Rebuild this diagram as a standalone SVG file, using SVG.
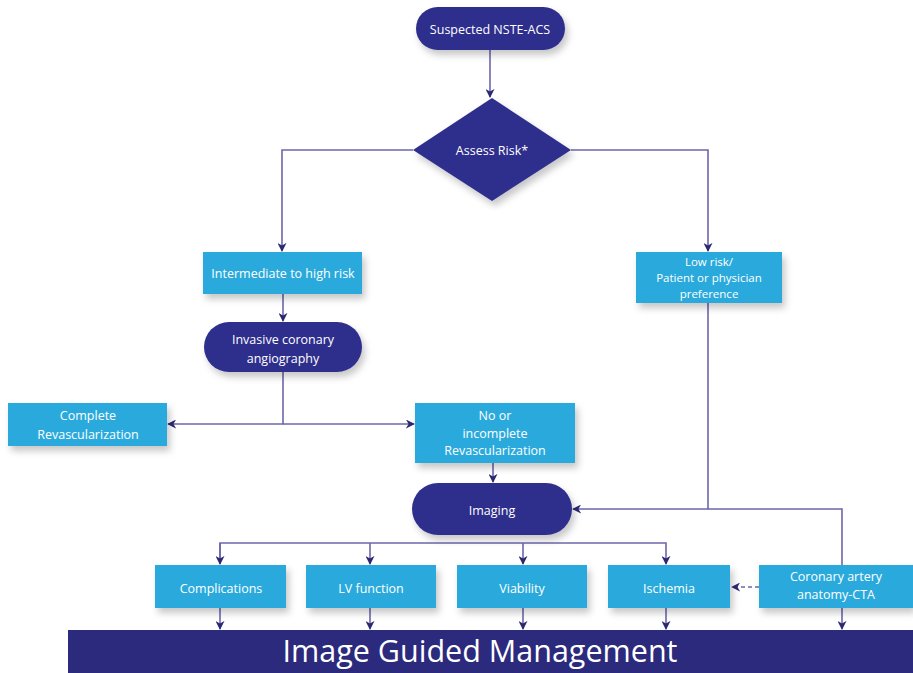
<svg xmlns="http://www.w3.org/2000/svg" width="913" height="673" viewBox="0 0 913 673">
<style>
.dark{fill:#2e2f8c}
.box{fill:#29aadc}
.t{font-family:"Open Sans","Liberation Sans",sans-serif;fill:#ffffff;font-size:12.5px;text-anchor:middle}
.sm{font-size:11.5px}
.ln{fill:none;stroke:#6d67ab;stroke-width:1.6}
.dash{stroke-dasharray:4 3}
</style>
<defs>
<filter id="sh" x="-20%" y="-30%" width="150%" height="180%">
<feDropShadow dx="3" dy="5" stdDeviation="3.5" flood-color="#000000" flood-opacity="0.22"/>
</filter>
<marker id="ah" viewBox="0 0 10 10" refX="9" refY="5" markerWidth="9" markerHeight="9" markerUnits="userSpaceOnUse" orient="auto">
<path d="M0,0 L10,5 L0,10 L3,5 Z" fill="#2b2872"/>
</marker>
</defs>
<rect width="913" height="673" fill="#ffffff"/>

<g id="connectors">
<path class="ln" d="M490,50 V97" marker-end="url(#ah)"/>
<path class="ln" d="M413,150 H282 V251" marker-end="url(#ah)"/>
<path class="ln" d="M571,150 H708 V251" marker-end="url(#ah)"/>
<path class="ln" d="M283,294 V321" marker-end="url(#ah)"/>
<path class="ln" d="M283,372 V424 H168" marker-end="url(#ah)"/>
<path class="ln" d="M283,424 H414" marker-end="url(#ah)"/>
<path class="ln" d="M493,463 V482" marker-end="url(#ah)"/>
<path class="ln" d="M708,303 V509 H573" marker-end="url(#ah)"/>
<path class="ln" d="M708,509 H842 V629" marker-end="url(#ah)"/>
<path class="ln" d="M220,564 V543 H666 V564" marker-end="url(#ah)"/>
<path class="ln" d="M370,543 V564" marker-end="url(#ah)"/>
<path class="ln" d="M523,543 V564" marker-end="url(#ah)"/>
<path class="ln" d="M220,608 V629" marker-end="url(#ah)"/>
<path class="ln" d="M370,608 V629" marker-end="url(#ah)"/>
<path class="ln" d="M523,608 V629" marker-end="url(#ah)"/>
<path class="ln" d="M666,608 V629" marker-end="url(#ah)"/>
<path class="ln dash" d="M759,587 H732" marker-end="url(#ah)"/>
<path d="M220,543 V564" class="ln" marker-end="url(#ah)"/>
</g>

<g id="suspected">
<rect class="dark" x="416" y="7" width="149" height="43" rx="21.5" filter="url(#sh)"/>
<text class="t" x="490" y="33.5">Suspected NSTE-ACS</text>
</g>

<g id="assess">
<polygon class="dark" points="492,98 571,150 492,201 413,150" filter="url(#sh)"/>
<text class="t" x="492" y="155">Assess Risk*</text>
</g>

<g id="intermediate">
<rect class="box" x="203" y="252" width="159" height="42" filter="url(#sh)"/>
<text class="t" x="283" y="277.5">Intermediate to high risk</text>
</g>

<g id="lowrisk">
<rect class="box" x="636" y="252" width="146" height="51" filter="url(#sh)"/>
<text class="t sm" x="709" y="265.5">Low risk/</text>
<text class="t sm" x="709" y="281.5">Patient or physician</text>
<text class="t sm" x="709" y="297.5">preference</text>
</g>

<g id="invasive">
<rect class="dark" x="204" y="322" width="158" height="50" rx="25" filter="url(#sh)"/>
<text class="t" x="283" y="343.5">Invasive coronary</text>
<text class="t" x="283" y="362.5">angiography</text>
</g>

<g id="complete">
<rect class="box" x="8" y="403" width="159" height="43" filter="url(#sh)"/>
<text class="t" x="88" y="419.5">Complete</text>
<text class="t" x="88" y="438.5">Revascularization</text>
</g>

<g id="incomplete">
<rect class="box" x="415" y="403" width="160" height="60" filter="url(#sh)"/>
<text class="t" x="495" y="419.5">No or</text>
<text class="t" x="495" y="437.5">incomplete</text>
<text class="t" x="495" y="454.5">Revascularization</text>
</g>

<g id="imaging">
<rect class="dark" x="412" y="483" width="160" height="52" rx="26" filter="url(#sh)"/>
<text class="t" x="492" y="514.5">Imaging</text>
</g>

<g id="complications">
<rect class="box" x="155" y="565" width="131" height="43" filter="url(#sh)"/>
<text class="t" x="221" y="593">Complications</text>
</g>

<g id="lvfunction">
<rect class="box" x="306" y="565" width="130" height="43" filter="url(#sh)"/>
<text class="t" x="371" y="593">LV function</text>
</g>

<g id="viability">
<rect class="box" x="457" y="565" width="130" height="43" filter="url(#sh)"/>
<text class="t" x="522" y="593">Viability</text>
</g>

<g id="ischemia">
<rect class="box" x="608" y="565" width="122" height="43" filter="url(#sh)"/>
<text class="t" x="669" y="593">Ischemia</text>
</g>

<g id="cta">
<rect class="box" x="759" y="565" width="154" height="43" filter="url(#sh)"/>
<text class="t" x="836" y="580.5">Coronary artery</text>
<text class="t" x="836" y="598.5">anatomy-CTA</text>
</g>

<g id="management">
<rect x="68" y="630" width="845" height="43" fill="#2b2a7d"/>
<text class="t" x="480" y="662" style="font-size:30.5px">Image Guided Management</text>
</g>
</svg>
